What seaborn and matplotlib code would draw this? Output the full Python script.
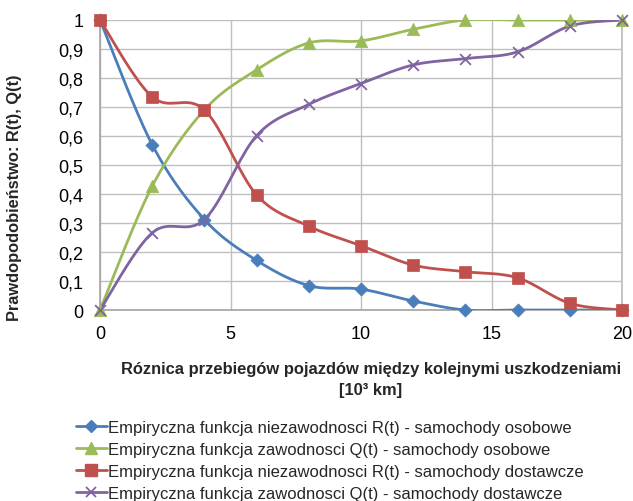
import numpy as np
import pandas as pd
import matplotlib
matplotlib.use("Agg")
import matplotlib.pyplot as plt
from matplotlib.lines import Line2D
import seaborn as sns

# ---- data ----
x_km = [0, 2, 4, 6, 8, 10, 12, 14, 16, 18, 20]
r_osobowe = [1.0, 0.570, 0.312, 0.171, 0.084, 0.072, 0.031, 0.0, 0.0, 0.0, 0.0]
q_osobowe = [0.0, 0.427, 0.690, 0.828, 0.921, 0.928, 0.968, 1.0, 1.0, 1.0, 1.0]
r_dostawcze = [1.0, 0.735, 0.690, 0.397, 0.289, 0.222, 0.155, 0.132, 0.111, 0.023, 0.0]
q_dostawcze = [0.0, 0.266, 0.312, 0.601, 0.709, 0.781, 0.845, 0.867, 0.890, 0.979, 1.0]
series_labels = [
    "Empiryczna funkcja niezawodnosci R(t) - samochody osobowe",
    "Empiryczna funkcja zawodnosci Q(t) - samochody osobowe",
    "Empiryczna funkcja niezawodnosci R(t) - samochody dostawcze",
    "Empiryczna funkcja zawodnosci Q(t) - samochody dostawcze",
]
x_ticks = [0, 5, 10, 15, 20]
y_ticks = [0, 0.1, 0.2, 0.3, 0.4, 0.5, 0.6, 0.7, 0.8, 0.9, 1.0]
x_title = "Róznica przebiegów pojazdów między kolejnymi uszkodzeniami\n[10³ km]"
y_title = "Prawdopodobieństwo: R(t), Q(t)"

sns.set_theme(style="white")
plt.rcParams["font.family"] = ["Liberation Sans", "DejaVu Sans"]

colors = ["#4A7EBB", "#9BBB59", "#C0504D", "#8064A2"]
markers = ["D", "^", "s", "x"]
msizes = [45, 80, 80, 60]


def smooth(xs, ys, n=20):
    """Excel-like Bezier smoothing through the points (rendering only)."""
    xs = np.asarray(xs, float)
    ys = np.asarray(ys, float)
    P = np.column_stack([xs, ys])
    out = []
    for i in range(len(P) - 1):
        p0 = P[i - 1] if i > 0 else P[i]
        p1 = P[i]
        p2 = P[i + 1]
        p3 = P[i + 2] if i + 2 < len(P) else P[i + 1]
        c1 = p1 + (p2 - p0) / 6.0
        c2 = p2 - (p3 - p1) / 6.0
        t = np.linspace(0, 1, n, endpoint=(i == len(P) - 2))[:, None]
        seg = ((1 - t) ** 3) * p1 + 3 * ((1 - t) ** 2) * t * c1 + 3 * (1 - t) * t ** 2 * c2 + t ** 3 * p2
        out.append(seg)
    out = np.vstack(out)
    return out[:, 0], out[:, 1]


fig = plt.figure(figsize=(6.33, 5.02), dpi=100)
ax = fig.add_axes([100 / 633, 1 - 311 / 502, 522 / 633, 290 / 502])

all_series = [r_osobowe, q_osobowe, r_dostawcze, q_dostawcze]
for ys, c, m, ms, lab in zip(all_series, colors, markers, msizes, series_labels):
    sx, sy = smooth(x_km, ys)
    curve = pd.DataFrame({"x": sx, "y": sy})
    sns.lineplot(data=curve, x="x", y="y", sort=False, color=c, lw=2, ax=ax, zorder=3)
    pts = pd.DataFrame({"x": x_km, "y": ys})
    if m == "x":
        sns.scatterplot(data=pts, x="x", y="y", marker="x", s=ms, color=c, linewidth=1.3, ax=ax, zorder=4)
    else:
        sns.scatterplot(data=pts, x="x", y="y", marker=m, s=ms, color=c, edgecolor=c, linewidth=0.5, ax=ax, zorder=4)
for coll in ax.collections:
    coll.set_clip_on(False)

ax.set_xlim(0, 20)
ax.set_ylim(0, 1)
ax.set_xticks(x_ticks)
ax.set_yticks(y_ticks)
ax.set_xticklabels([str(v) for v in x_ticks])
ax.set_yticklabels([("%g" % v).replace(".", ",") for v in y_ticks])
ax.tick_params(axis="both", labelsize=13, length=0, colors="#000000")
ax.tick_params(axis="y", pad=12)
ax.tick_params(axis="x", pad=11)
ax.grid(True, color="#BFBFBF", lw=1)
ax.spines["top"].set_visible(False)
ax.spines["right"].set_color("#BFBFBF")
ax.spines["left"].set_color("#A6A6A6")
ax.spines["bottom"].set_color("#A6A6A6")
ax.set_xlabel("")
ax.set_ylabel("")

fig.text(15 / 633, 1 - 198 / 502, y_title, rotation=90, ha="center", va="center",
         fontsize=11.8, fontweight="bold")
fig.text(371 / 633, 1 - 380 / 502, x_title, ha="center", va="center",
         fontsize=11.9, fontweight="bold", multialignment="center", linespacing=1.45)

handles = []
for c, m in zip(colors, markers):
    if m == "x":
        h = Line2D([0], [0], color=c, lw=2, marker="x", markersize=7, markeredgewidth=1.3)
    else:
        h = Line2D([0], [0], color=c, lw=2, marker=m, markersize=6 if m == "D" else 8,
                   markerfacecolor=c, markeredgecolor=c)
    handles.append(h)
fig.legend(handles, series_labels, loc="upper left", bbox_to_anchor=(76 / 633, 1 - 421 / 502),
           frameon=False, fontsize=12, handlelength=1.85, handletextpad=0.05,
           labelspacing=0.41, borderaxespad=0, borderpad=0)

fig.savefig("out.png", dpi=100)
